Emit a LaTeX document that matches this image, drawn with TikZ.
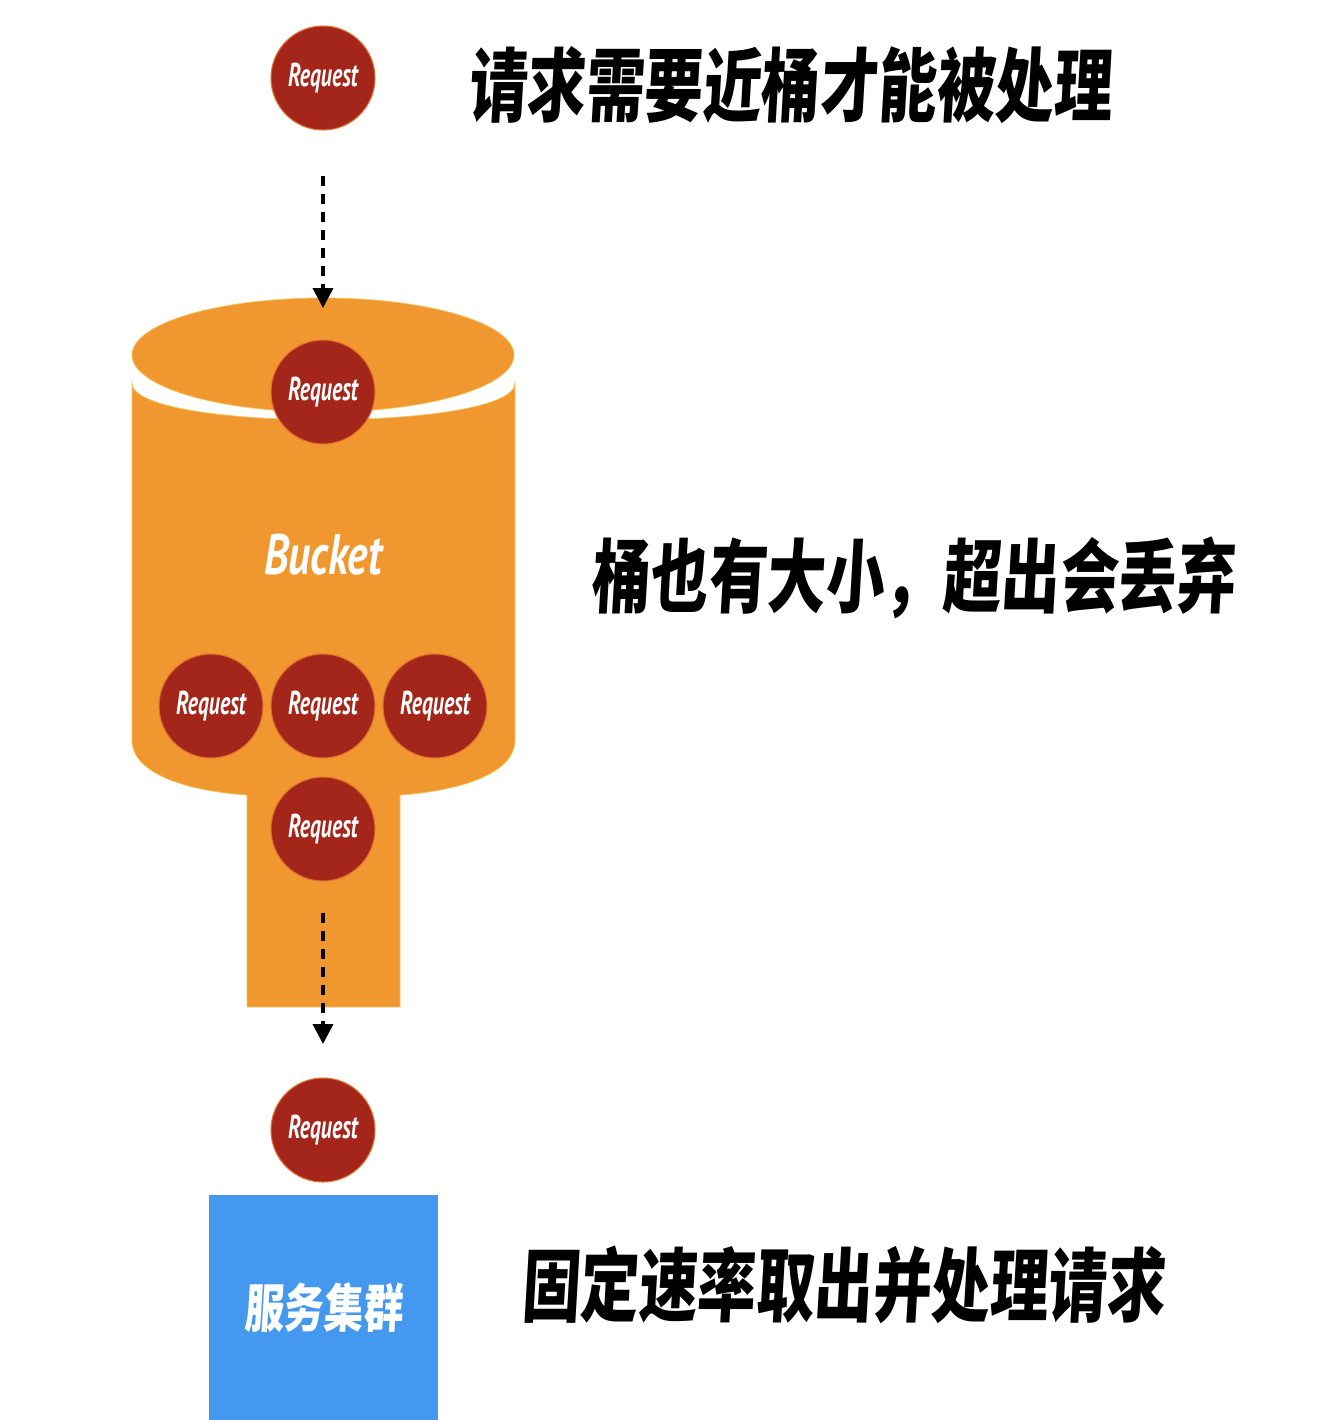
\documentclass[tikz,border=0pt]{standalone}
\usepackage{fontspec}
\setmainfont{PT Sans}
\newfontfamily\cjk{Noto Sans CJK SC}[FakeSlant=0.08]
\usetikzlibrary{arrows.meta, positioning}

\definecolor{bucketorange}{HTML}{F0982F}
\definecolor{bucketrim}{HTML}{F4C35A}
\definecolor{reqred}{HTML}{A4261A}
\definecolor{reqrim}{HTML}{E0702C}
\definecolor{clusterblue}{HTML}{4499EF}

\newcommand{\req}{\scalebox{0.66}[1]{\bfseries\itshape Request}}

\begin{document}
\begin{tikzpicture}[
            x = 0.05cm, y = -0.05cm, % one unit = one pixel of the screenshot
            > = {Triangle[length=1cm, width=1cm]}, % arrow head style
            node distance = 5.6cm, % distance between queued requests
            request/.style = {circle, draw = reqrim, line width = 1.5pt,
                fill = reqred, minimum size = 5.2cm, inner sep = 0pt,
                text = white, font = \fontsize{47}{47}\selectfont},
            flow/.style = {->, line width = 0.19cm,
                dash pattern = on 0.5cm off 0.4cm},
            caption/.style = {anchor = west, inner sep = 0pt,
                font = \cjk\bfseries\fontsize{114}{114}\selectfont}
        ]

        \useasboundingbox[fill = white] (0,0) rectangle (1336,1420);

        % bucket body and neck
        \filldraw[fill = bucketorange, draw = bucketrim, line width = 1pt]
            (132,383) -- (132,740)
            .. controls (132,778) and (200,792) .. (247,795)
            -- (247,1007) -- (400,1007) -- (400,795)
            .. controls (446,792) and (515,778) .. (515,740)
            -- (515,383)
            .. controls (515,432) and (132,432) .. (132,383) -- cycle;

        % bucket mouth
        \filldraw[fill = bucketorange, draw = bucketrim, line width = 1pt]
            (323,355) ellipse [x radius = 191, y radius = 57];

        \coordinate (mouth) at (323,308);
        \coordinate (spout) at (323,1044);

        \node[text = white, font = \fontsize{81}{81}\selectfont]
            (bucket) at (323,555) {\scalebox{0.76}[1]{\bfseries\itshape Bucket}};

        \node[request] (incoming) at (323,78) {\req};
        \node[request] (entering) at (323,392) {\req};
        \node[request] (q2) at (323,706) {\req};
        \node[request] (q1) [left of=q2] {\req};
        \node[request] (q3) [right of=q2] {\req};
        \node[request] (leaving) at (323,829) {\req};
        \node[request] (served) at (323,1130) {\req};

        \node[fill = clusterblue, minimum width = 11.45cm, minimum height = 11.25cm,
            anchor = north, text = white,
            font = \cjk\bfseries\fontsize{74}{74}\selectfont]
            (cluster) at (323.5,1195) {\scalebox{0.76}[1]{服务集群}};

        \draw[flow] ([yshift=-2.25cm]incoming.south) -- (mouth);
        \draw[flow] ([yshift=-1.55cm]leaving.south) -- (spout);

        \node[caption] (enter) at (468,85) {\scalebox{0.73}[1]{请求需要近桶才能被处理}};
        \node[caption] (limit) at (591,578) {\scalebox{0.73}[1]{桶也有大小，超出会丢弃}};
        \node[caption] (rate) at (521,1285) {\scalebox{0.73}[1]{固定速率取出并处理请求}};

\end{tikzpicture}
\end{document}
